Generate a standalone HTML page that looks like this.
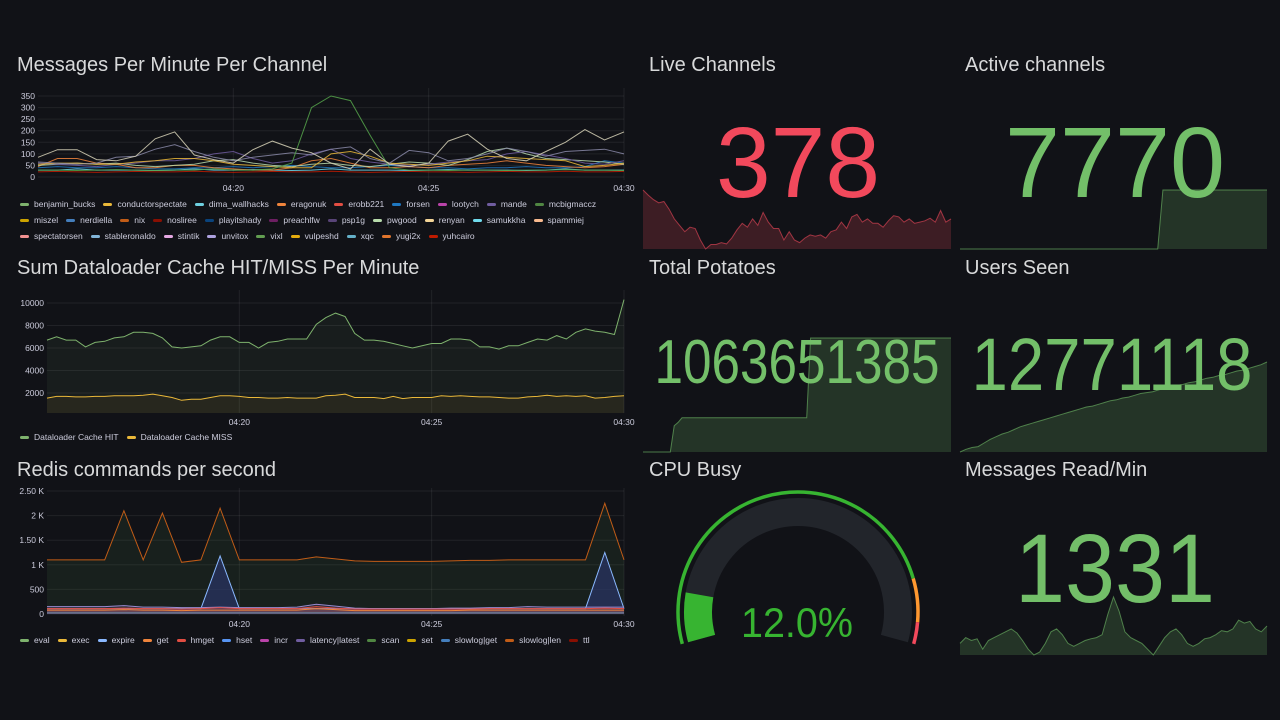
<!DOCTYPE html>
<html><head><meta charset="utf-8">
<style>
html,body{margin:0;padding:0;background:#111217;width:1280px;height:720px;overflow:hidden;font-family:"Liberation Sans",sans-serif}
.legend{position:absolute;display:flex;flex-direction:column;gap:4px;font-size:8.5px;color:#ccccdc}
.row{display:flex;gap:8px;height:12px;align-items:center;white-space:nowrap}
.item{display:flex;align-items:center;gap:5px}
.sw{width:9px;height:3px;border-radius:2px;display:inline-block}
</style></head>
<body>
<svg id="svg" width="1280" height="720" style="position:absolute;left:0;top:0" xmlns="http://www.w3.org/2000/svg"></svg>
<div id="leg1" class="legend" style="left:20px;top:198px"></div>
<div id="leg2" class="legend" style="left:20px;top:431px"></div>
<div id="leg3" class="legend" style="left:20px;top:634px"></div>
<script>
// ---------- Chart 1 data ----------
const msgNames=[["benjamin_bucks","conductorspectate","dima_wallhacks","eragonuk","erobb221","forsen","lootych","mande","mcbigmaccz"],["miszel","nerdiella","nix","nosliree","playitshady","preachlfw","psp1g","pwgood","renyan","samukkha","spammiej"],["spectatorsen","stableronaldo","stintik","unvitox","vixl","vulpeshd","xqc","yugi2x","yuhcairo"]];
const msgColors=["#7EB26D","#EAB839","#6ED0E0","#EF843C","#E24D42","#1F78C1","#BA43A9","#705DA0","#508642","#CCA300","#447EBC","#C15C17","#890F02","#0A437C","#6D1F62","#584477","#B7DBAB","#F4D598","#70DBED","#F9BA8F","#F29191","#82B5D8","#E5A8E2","#AEA2E0","#629E51","#E5AC0E","#64B0C8","#E0752D","#BF1B00"];
const msgTicksY=[0,50,100,150,200,250,300,350];
const timeTicks=["04:20","04:25","04:30"];
const serRenyan=[85,118,118,75,70,90,165,195,95,75,60,118,155,125,105,60,35,120,55,45,60,155,185,120,80,70,110,150,205,160,195];
const serPsp1g=[65,60,55,60,85,90,120,140,110,85,70,85,95,105,95,120,130,80,60,115,105,70,80,100,125,110,90,110,115,120,100];
const serConductor=[55,60,60,55,55,65,70,80,80,70,55,50,45,40,40,100,110,90,60,55,50,60,70,90,85,80,75,70,45,50,60];
const serMande=[60,55,50,45,55,60,70,70,80,100,110,80,60,70,100,120,80,65,55,50,55,65,70,75,100,110,95,80,60,55,70];
const serEragonuk=[45,80,80,60,55,40,40,50,50,40,35,30,30,40,70,80,60,40,40,45,40,50,55,60,70,60,50,45,40,45,55];
const serForsen=[40,45,40,40,45,40,35,35,40,40,45,40,45,50,45,40,40,45,50,45,40,40,35,40,40,45,40,40,45,70,60];
const serYuhcairo=[22,24,22,20,22,24,22,22,25,22,20,22,24,22,22,25,22,20,22,24,22,22,20,22,24,22,22,25,22,22,24];
const serSamukkha=[30,30,35,30,30,30,28,30,35,30,30,32,30,28,30,35,30,30,30,28,30,32,30,30,30,28,30,35,30,30,30];
const serVixl=[30,30,28,30,32,30,28,30,30,35,30,30,35,60,300,350,330,180,40,30,30,28,30,30,28,30,30,32,30,30,28];
const serPwgood=[50,55,60,55,60,50,45,50,55,70,75,60,50,45,55,60,50,45,55,65,60,50,75,110,125,100,80,75,70,65,55];
// ---------- Chart 2 data ----------
const cacheTicksY=[2000,4000,6000,8000,10000];
const cacheHit=[6700,7000,6700,6700,6100,6500,6600,6900,7000,7400,7400,7300,6900,6100,6000,6100,6200,6700,7000,7000,6500,6500,6000,6500,6600,6800,6800,6800,8100,8700,9100,8800,7300,6700,6700,6600,6400,6200,6000,6200,6400,6400,6800,6800,6700,6100,6100,5900,6200,6200,6500,6800,6700,7100,6800,7400,7700,7500,7400,7200,10300];
const cacheMiss=[1550,1700,1700,1650,1650,1700,1700,1750,1750,1750,1800,1900,1750,1600,1350,1450,1450,1600,1750,1750,1700,1600,1600,1550,1550,1600,1550,1550,1550,1750,1800,1900,1600,1600,1600,1500,1700,1500,1600,1600,1600,1750,1700,1750,1700,1650,1650,1600,1550,1550,1650,1700,1800,1700,1750,1700,1750,1550,1600,1700,1750];
// ---------- Chart 3 data ----------
const redisTicksY=[0,500,1000,1500,2000,2500];
const redisTickLabels=["0","500","1 K","1.50 K","2 K","2.50 K"];
const redisNames=["eval","exec","expire","get","hmget","hset","incr","latency|latest","scan","set","slowlog|get","slowlog|len","ttl"];
const redisColors=["#7EB26D","#EAB839","#8ab8ff","#EF843C","#E24D42","#5794f2","#BA43A9","#705DA0","#508642","#CCA300","#447EBC","#C15C17","#890F02"];
const redisTotal=[1100,1100,1100,1100,2100,1100,2050,1050,1100,2150,1100,1100,1100,1100,1160,1120,1080,1070,1070,1070,1070,1080,1090,1090,1100,1100,1100,1100,1100,2250,1100];
const redisExpire=[110,110,110,110,110,110,110,110,110,1180,110,110,110,110,110,110,110,110,110,110,110,110,110,110,110,110,110,110,110,1250,110];
const redisLatency=[150,150,150,150,170,140,140,130,130,140,130,130,130,140,200,160,120,110,110,110,110,120,120,130,130,150,140,140,140,140,140];
const redisHmget=[110,110,110,110,120,110,110,100,110,130,110,110,110,110,150,120,100,100,100,100,100,100,100,110,110,110,110,110,110,120,110];
const redisGet=[80,80,80,80,90,80,80,70,80,80,80,80,80,80,110,90,70,70,70,70,70,70,80,80,80,80,80,80,80,80,80];
const redisSlowGet=[25,25,25,25,25,25,25,25,25,25,25,25,25,25,25,25,25,25,25,25,25,25,25,25,25,25,25,25,25,25,25];
// ---------- Stat data ----------
const liveVals=[100,92,85,80,82,70,55,45,35,42,40,22,8,15,15,18,16,25,38,48,42,55,45,65,50,40,40,22,35,22,18,25,30,28,30,25,35,38,50,40,58,62,50,55,48,48,42,52,60,58,50,55,48,50,52,56,50,68,50,55];
const activeVals=[0,0,0,0,0,0,0,0,0,0,0,0,0,0,0,0,0,0,0,0,0,0,0,0,0,0,0,0,0,0,0,0,0,0,0,0,0,0,0,100,100,100,100,100,100,100,100,100,100,100,100,100,100,100,100,100,100,100,100,100];
const potatoVals=[0,0,0,0,0,0,0,0,23,26,30,30,30,30,30,30,30,30,30,30,30,30,30,30,30,30,30,30,30,30,30,30,30,30,30,30,30,30,30,30,30,30,30,100,100,100,100,100,100,100,100,100,100,100,100,100,100,100,100,100,100,100,100,100,100,100,100,100,100,100,100,100,100,100,100,100,100,100,100,100];
const usersVals=[0,3,5,6,10,14,17,20,22,25,28,30,32,34,36,38,40,42,44,46,48,50,51,53,55,57,58,60,61,63,65,66,67,69,71,72,74,75,77,78,80,82,83,85,86,88,90,91,93,95,97,100];
const readVals=[20,30,25,28,10,25,30,35,40,45,38,25,10,0,5,20,40,45,35,20,15,20,25,28,30,35,70,100,75,40,30,25,20,10,0,15,30,40,45,35,20,15,20,28,30,35,42,40,45,60,55,58,45,40,50];
const cpuValue=12.0;
const cpuThresholds=[0,85,95];
const cpuThreshColors=["#37b431","#ff9830","#f2495c"];

const NS="http://www.w3.org/2000/svg";
const svg=document.getElementById('svg');
function el(tag,attrs,parent){const e=document.createElementNS(NS,tag);for(const k in attrs)e.setAttribute(k,attrs[k]);(parent||svg).appendChild(e);return e;}
function txt(x,y,s,size,fill,anchor,name){const t=el('text',{x:x,y:y,'font-size':size,fill:fill,'text-anchor':anchor||'start','font-family':'Liberation Sans, sans-serif'});t.textContent=s;


return t;}
function pathFrom(vals,xf,yf){return vals.map((v,i)=>(i?'L':'M')+xf(i,vals.length).toFixed(1)+','+yf(v).toFixed(1)).join('');}

txt(17,71,"Messages Per Minute Per Channel",20,"#d8d9da","start","messages-title");
txt(17,274,"Sum Dataloader Cache HIT/MISS Per Minute",20,"#d8d9da","start","cache-title");
txt(17,476,"Redis commands per second",20,"#d8d9da","start","redis-title");
txt(649,71,"Live Channels",20,"#d8d9da","start","live-channels-title");
txt(965,71,"Active channels",20,"#d8d9da","start","active-channels-title");
txt(649,274,"Total Potatoes",20,"#d8d9da","start","total-potatoes-title");
txt(965,274,"Users Seen",20,"#d8d9da","start","users-seen-title");
txt(649,476,"CPU Busy",20,"#d8d9da","start","cpu-busy-title");
txt(965,476,"Messages Read/Min",20,"#d8d9da","start","messages-read-title");

function timeAxis(x0,x1,yTop,yBot,labelY,g){
  const step=(x1-x0)/3;
  timeTicks.forEach((t,i)=>{const x=x0+step*(i+1);
    el('line',{x1:x,x2:x,y1:yTop,y2:yBot,stroke:'#ffffff',"stroke-opacity":0.07},g);
    txt(x,labelY,t,8.5,'#ccccdc','middle','x-tick-'+t);});
}
function yAxis(ticks,labels,yf,x0,x1,g){
  ticks.forEach((v,i)=>{const y=yf(v);
    el('line',{x1:x0,x2:x1,y1:y,y2:y,stroke:'#ffffff',"stroke-opacity":0.07},g);
    txt(x0-3,y+3,labels?labels[i]:String(v),8.5,'#ccccdc','end','y-tick-'+v);});
}

{const g=el('g',{});
 const X0=38,X1=624,yf=v=>177-v*0.2314,xf=(i,n)=>X0+(X1-X0)*i/(n-1);
 yAxis(msgTicksY,null,yf,X0,X1,g);timeAxis(X0,X1,88,180,191,g);
 const series=[[serYuhcairo,"#BF1B00"],[serSamukkha,"#70DBED"],[serForsen,"#1F78C1"],[serEragonuk,"#EF843C"],[serPwgood,"#B7DBAB"],[serMande,"#705DA0"],[serConductor,"#EAB839"],[serPsp1g,"#8a8aa8"],[serVixl,"#56a64b"],[serRenyan,"#d8d4b8"]];
 series.forEach(([vals,c],k)=>{const p=el('path',{d:pathFrom(vals,xf,yf),fill:'none',stroke:c,'stroke-width':1,'stroke-opacity':0.85},g);
   
   });
}
{const g=el('g',{});
 const X0=47,X1=624,BOT=413,yf=v=>415.5-v*0.01125,xf=(i,n)=>X0+(X1-X0)*i/(n-1);
 yAxis(cacheTicksY,null,yf,X0,X1,g);timeAxis(X0,X1,290,BOT,425,g);
 [[cacheHit,"#7EB26D","cache-hit-line"],[cacheMiss,"#EAB839","cache-miss-line"]].forEach(([vals,c,nm])=>{
  const d=pathFrom(vals,xf,yf);
  el('path',{d:d+'L'+X1+','+BOT+'L'+X0+','+BOT+'Z',fill:c,'fill-opacity':0.07},g);
  const p=el('path',{d:d,fill:'none',stroke:c,'stroke-width':1},g);
  
  });
}
{const g=el('g',{});
 const X0=47,X1=624,BOT=614,yf=v=>614-v*0.0492,xf=(i,n)=>X0+(X1-X0)*i/(n-1);
 yAxis(redisTicksY,redisTickLabels,yf,X0,X1,g);timeAxis(X0,X1,488,616,627,g);
 const area=(vals,c,op,stroke,nm)=>{const d=pathFrom(vals,xf,yf);
   el('path',{d:d+'L'+X1+','+BOT+'L'+X0+','+BOT+'Z',fill:c,'fill-opacity':op},g);
   const p=el('path',{d:d,fill:'none',stroke:stroke,'stroke-width':1},g);
   
   };
 area(redisTotal,'#508642',0.13,'#C15C17','redis-slowlog-len-line');
 area(redisExpire,'#2a3566',0.7,'#8ab8ff','redis-expire-line');
 area(redisLatency,'#705DA0',0.2,'#9a8ad0','redis-latency-line');
 area(redisHmget,'#E24D42',0.15,'#E24D42','redis-hmget-line');
 area(redisGet,'#EF843C',0.15,'#EF843C','redis-get-line');
 area(redisSlowGet,'#447EBC',0.3,'#6a7f99','redis-slowlog-get-line');
}
function spark(vals,x0,x1,yTop,yBot,c,fillOp,nm){const mx=Math.max(...vals),mn=Math.min(...vals);
 const xf=(i,n)=>x0+(x1-x0)*i/(n-1),yf=v=>yBot-(v-mn)/(mx-mn)*(yBot-yTop);
 const d=pathFrom(vals,xf,yf);
 el('path',{d:d+'L'+x1+','+yBot+'L'+x0+','+yBot+'Z',fill:c,'fill-opacity':fillOp});
 const p=el('path',{d:d,fill:'none',stroke:c,'stroke-width':1,'stroke-opacity':0.6});
 
 }
spark(liveVals,643,951,190,249,'#f2495c',0.2,'live-channels-sparkline');
spark(activeVals,960,1267,190,249,'#73bf69',0.2,'active-channels-sparkline');
spark(potatoVals,643,951,338,452,'#73bf69',0.2,'total-potatoes-sparkline');
spark(usersVals,960,1267,362,452,'#73bf69',0.2,'users-seen-sparkline');
spark(readVals,960,1267,597,655,'#73bf69',0.2,'messages-read-sparkline');
function big(x,y,s,size,len,c,nm){const t=txt(x,y,s,size,c,'middle',nm);t.setAttribute('textLength',len);t.setAttribute('lengthAdjust','spacingAndGlyphs');}
big(798,197,"378",100,164,'#f2495c','live-channels-value');
big(1115,197,"7770",100,220,'#73bf69','active-channels-value');
big(797,383,"1063651385",62,285,'#73bf69','total-potatoes-value');
big(1112,390,"12771118",74,281,'#73bf69','users-seen-value');
big(1115,602,"1331",97,200,'#73bf69','messages-read-value');
{const cx=798,cy=612,a0=195.4,sweep=210.8;
 const pt=(r,deg)=>[cx+r*Math.cos(deg*Math.PI/180),cy-r*Math.sin(deg*Math.PI/180)];
 const arc=(r,p0,p1)=>{const s=pt(r,a0-sweep*p0),e=pt(r,a0-sweep*p1);const large=(sweep*(p1-p0))>180?1:0;return 'M'+s[0]+','+s[1]+'A'+r+','+r+' 0 '+large+' 1 '+e[0]+','+e[1];};
 const bg=el('path',{d:arc(100,0,1),fill:'none',stroke:'#22252b','stroke-width':28});
 
 const v=el('path',{d:arc(100,0,cpuValue/100),fill:'none',stroke:'#37b431','stroke-width':28});
 
 cpuThresholds.forEach((t,i)=>{const t1=i<cpuThresholds.length-1?cpuThresholds[i+1]:100;
  const p=el('path',{d:arc(120,t/100,t1/100),fill:'none',stroke:cpuThreshColors[i],'stroke-width':3.5});
  });
 big(797,637,cpuValue.toFixed(1)+"%",42,112,'#37b431','cpu-busy-value');
}
function legend(id,rows,colors){const box=document.getElementById(id);let k=0;
 rows.forEach(r=>{const row=document.createElement('div');row.className='row';
  
  
  r.forEach(n=>{const it=document.createElement('div');it.className='item';
   
   
   const sw=document.createElement('span');sw.className='sw';sw.style.background=colors[k++];
   it.appendChild(sw);it.appendChild(document.createTextNode(n));row.appendChild(it);});
  box.appendChild(row);});}
legend('leg1',msgNames,msgColors);
legend('leg2',[["Dataloader Cache HIT","Dataloader Cache MISS"]],["#7EB26D","#EAB839"]);
legend('leg3',[redisNames],redisColors);
</script>
</body></html>
